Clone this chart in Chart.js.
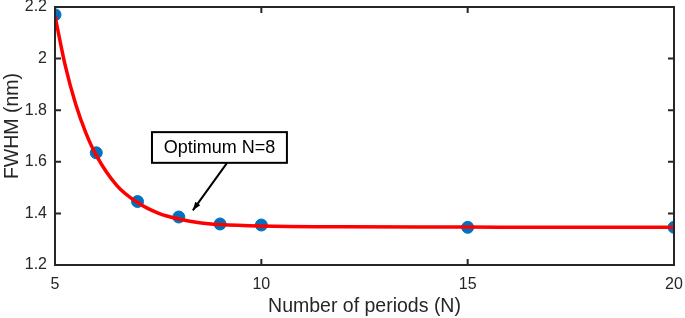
<!DOCTYPE html>
<html><head><meta charset="utf-8">
<script src="https://cdn.jsdelivr.net/npm/chart.js@4/dist/chart.umd.min.js"></script>
<style>html,body{margin:0;padding:0;background:#fff;}#wrap{width:685px;height:318px;position:relative;}</style>
</head><body><div id="wrap"><canvas id="c" width="685" height="318"></canvas></div>
<script>
// Measured points
const periods = [5, 6, 7, 8, 9, 10, 15, 20];
const fwhm = [2.17, 1.635, 1.446, 1.386, 1.359, 1.355, 1.346, 1.346];
// Red fitted curve
const curveN = [5, 5.25, 5.5, 5.75, 6, 6.5, 7, 7.5, 8, 8.5, 9, 10, 12, 15, 17, 20];
const curveFwhm = [2.165, 1.972, 1.824, 1.711, 1.625, 1.508, 1.442, 1.401, 1.378, 1.364, 1.357, 1.351, 1.348, 1.347, 1.346, 1.346];
const xTicks = [5, 10, 15, 20];
const yTicks = [1.2, 1.4, 1.6, 1.8, 2, 2.2];
const yTitle = 'FWHM (nm)';
const annotationText = 'Optimum N=8';
const annotationBox = {x0: 7.35, x1: 10.62, y0: 1.596, y1: 1.715};
const arrowFrom = {x: 9.17, y: 1.596};
const arrowTo = {x: 8.34, y: 1.412};

const FONT = "'Liberation Sans', Arial, Helvetica, sans-serif";

const framePlugin = {
  id: 'frame',
  afterDatasetsDraw(chart) {
    const {ctx, chartArea: a, scales: {x, y}} = chart;
    ctx.save();
    ctx.strokeStyle = '#262626';
    ctx.lineWidth = 2;
    ctx.strokeRect(a.left, a.top, a.right - a.left, a.bottom - a.top);
    const tl = 6;
    ctx.beginPath();
    xTicks.forEach(v => {
      const px = x.getPixelForValue(v);
      ctx.moveTo(px, a.bottom); ctx.lineTo(px, a.bottom - tl);
      ctx.moveTo(px, a.top); ctx.lineTo(px, a.top + tl);
    });
    yTicks.forEach(v => {
      const py = y.getPixelForValue(v);
      ctx.moveTo(a.left, py); ctx.lineTo(a.left + tl, py);
      ctx.moveTo(a.right, py); ctx.lineTo(a.right - tl, py);
    });
    ctx.stroke();
    // y-axis title (sits slightly above the axis centre in the original)
    ctx.fillStyle = '#262626';
    ctx.font = '19.5px ' + FONT;
    ctx.save();
    ctx.translate(13, (a.top + a.bottom) / 2 - 10);
    ctx.rotate(-Math.PI / 2);
    ctx.textAlign = 'center'; ctx.textBaseline = 'middle';
    ctx.fillText(yTitle, 0, 0);
    ctx.restore();
    // annotation
    const bx0 = x.getPixelForValue(annotationBox.x0), bx1 = x.getPixelForValue(annotationBox.x1);
    const by0 = y.getPixelForValue(annotationBox.y1), by1 = y.getPixelForValue(annotationBox.y0);
    ctx.fillStyle = '#fff';
    ctx.fillRect(bx0, by0, bx1 - bx0, by1 - by0);
    ctx.strokeStyle = '#000';
    ctx.lineWidth = 2;
    ctx.strokeRect(bx0, by0, bx1 - bx0, by1 - by0);
    ctx.fillStyle = '#000';
    ctx.font = '18px ' + FONT;
    ctx.textAlign = 'center'; ctx.textBaseline = 'middle';
    ctx.fillText(annotationText, (bx0 + bx1) / 2, (by0 + by1) / 2 + 1);
    const ax0 = x.getPixelForValue(arrowFrom.x), ay0 = y.getPixelForValue(arrowFrom.y);
    const ax1 = x.getPixelForValue(arrowTo.x), ay1 = y.getPixelForValue(arrowTo.y);
    ctx.lineWidth = 2;
    ctx.beginPath(); ctx.moveTo(ax0, ay0); ctx.lineTo(ax1, ay1); ctx.stroke();
    const ang = Math.atan2(ay1 - ay0, ax1 - ax0), hl = 9, hw = 0.35;
    ctx.beginPath();
    ctx.moveTo(ax1, ay1);
    ctx.lineTo(ax1 - hl * Math.cos(ang - hw), ay1 - hl * Math.sin(ang - hw));
    ctx.lineTo(ax1 - hl * Math.cos(ang + hw), ay1 - hl * Math.sin(ang + hw));
    ctx.closePath(); ctx.fill();
    ctx.restore();
  }
};

new Chart(document.getElementById('c'), {
  type: 'scatter',
  data: {
    datasets: [
      {
        label: 'fit',
        data: curveN.map((n, i) => ({x: n, y: curveFwhm[i]})),
        showLine: true,
        borderColor: '#FF0000',
        borderWidth: 3.5,
        pointRadius: 0,
        cubicInterpolationMode: 'monotone',
        order: 0
      },
      {
        label: 'data',
        data: periods.map((n, i) => ({x: n, y: fwhm[i]})),
        backgroundColor: '#0072BD',
        borderColor: '#0072BD',
        pointRadius: 6,
        pointStyle: 'circle',
        order: 1
      }
    ]
  },
  options: {
    responsive: false,
    animation: false,
    events: [],
    layout: {padding: {top: 6, right: 11, left: 0, bottom: 0}},
    plugins: {legend: {display: false}, tooltip: {enabled: false}},
    scales: {
      x: {
        type: 'linear', min: 5, max: 20,
        afterBuildTicks: s => { s.ticks = xTicks.map(v => ({value: v})); },
        grid: {display: false, drawTicks: false},
        border: {display: false},
        ticks: {color: '#262626', font: {family: FONT, size: 16}, padding: 10},
        title: {display: true, text: 'Number of periods (N)', color: '#262626', font: {family: FONT, size: 19.5}, padding: {top: 2, bottom: 0}},
        afterFit: s => { s.height = 53; s.paddingLeft = 0; s.paddingRight = 0; }
      },
      y: {
        type: 'linear', min: 1.2, max: 2.2,
        afterBuildTicks: s => { s.ticks = yTicks.map(v => ({value: v})); },
        grid: {display: false, drawTicks: false},
        border: {display: false},
        ticks: {color: '#262626', font: {family: FONT, size: 16}, padding: 8,
                callback: v => String(+Number(v).toFixed(1))},
        title: {display: false},
        afterFit: s => { s.width = 55; s.paddingTop = 0; s.paddingBottom = 0; }
      }
    }
  },
  plugins: [framePlugin]
});
</script></body></html>
